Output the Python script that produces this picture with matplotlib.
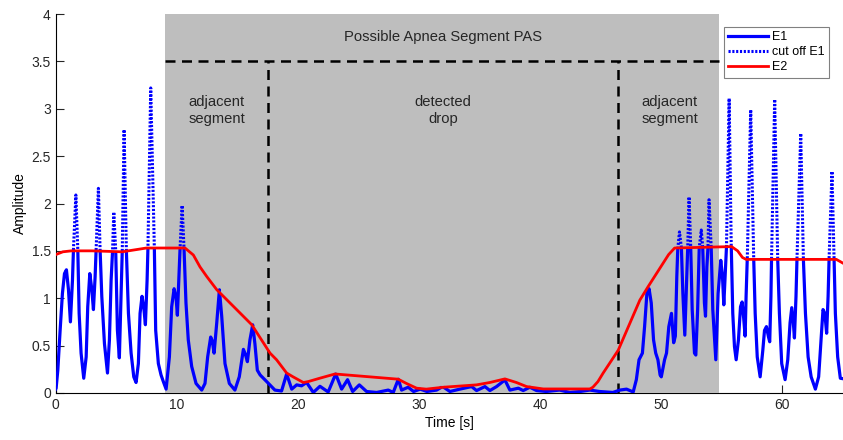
import matplotlib
matplotlib.use("Agg")
import matplotlib.pyplot as plt
from matplotlib.patches import Polygon

plt.rcParams['font.family'] = ['Liberation Sans', 'DejaVu Sans']
plt.rcParams['font.size'] = 10

# E1 signal (time [s], amplitude)
t_e1 = [0.0, 0.04, 0.18, 0.37, 0.56, 0.73, 0.89, 1.06, 1.22, 1.39, 1.47, 1.67,
        1.83, 1.94, 2.1, 2.32, 2.52, 2.65, 2.82, 2.98, 3.12, 3.26, 3.34, 3.53,
        3.67, 3.81, 4.03, 4.28, 4.44, 4.58, 4.7, 4.8, 4.96, 5.1, 5.26, 5.4,
        5.5, 5.65, 5.84, 6.01, 6.23, 6.45, 6.64, 6.83, 6.97, 7.13, 7.27, 7.41,
        7.55, 7.62, 7.85, 8.15, 8.26, 8.48, 8.7, 8.89, 9.12, 9.39, 9.58, 9.78,
        9.94, 10.05, 10.19, 10.27, 10.44, 10.6, 10.76, 10.95, 11.23, 11.59,
        12.06, 12.33, 12.55, 12.8, 12.93, 13.08, 13.3, 13.52, 13.71, 13.98,
        14.34, 14.8, 15.16, 15.5, 15.66, 15.83, 16.04, 16.27, 16.45, 16.65,
        16.88, 17.42, 18.1, 18.65, 19.07, 19.49, 19.9,
        20.3, 20.72, 21.27, 21.82, 22.5, 23.12, 23.61, 24.1, 24.52, 25.07,
        25.67, 26.5, 27.46, 27.87, 28.29, 28.56, 29.1, 29.55, 30.1, 30.65,
        31.45, 31.95, 32.55, 33.37, 34.34, 34.75, 35.44, 35.85, 36.4, 37.09,
        37.5, 38.2, 38.6, 39.15, 39.7, 40.5, 41.6, 42.45, 43.3, 44.1, 44.9,
        46.0, 46.58, 47.13, 47.68, 47.94, 48.16, 48.44, 48.62, 48.81, 48.99,
        49.17, 49.36, 49.54, 49.72, 49.9, 50.0, 50.27, 50.43, 50.62, 50.84,
        51.02, 51.16, 51.28, 51.36, 51.5, 51.66, 51.78, 51.94, 52.1, 52.18,
        52.29, 52.43, 52.55, 52.74, 52.85, 53.0, 53.13, 53.3, 53.42, 53.56,
        53.65, 53.76, 53.85, 53.94, 54.12, 54.25, 54.5, 54.69, 54.91, 55.05,
        55.16, 55.33, 55.38, 55.6, 55.77, 55.9, 56.04, 56.18, 56.37, 56.54,
        56.67, 56.8, 56.92, 57.0, 57.1, 57.38, 57.63, 57.75, 57.92, 58.16,
        58.38, 58.52, 58.68, 58.85, 58.95, 59.05, 59.1, 59.36, 59.61, 59.75,
        59.94, 60.22, 60.44, 60.63, 60.77, 60.9, 60.99, 61.12, 61.2, 61.51,
        61.73, 61.9, 62.12, 62.37, 62.72, 62.99, 63.19, 63.35, 63.5, 63.65,
        63.77, 63.85, 64.09, 64.26, 64.37, 64.56, 64.78, 65.0]
e1 = [0.04, 0.05, 0.24, 0.66, 1.05, 1.26, 1.30, 1.09, 0.75, 1.19, 1.51, 2.09,
      1.51, 0.84, 0.42, 0.155, 0.38, 0.91, 1.26, 1.10, 0.88, 1.23, 1.51, 2.16,
      1.51, 1.02, 0.52, 0.21, 0.56, 1.19, 1.50, 1.91, 1.50, 0.66, 0.37, 1.02,
      1.50, 2.78, 1.50, 0.84, 0.42, 0.17, 0.11, 0.31, 0.84, 1.02, 0.91, 0.72,
      1.19, 1.53, 3.22, 1.52, 0.66, 0.31, 0.19, 0.12, 0.04, 0.38, 0.91, 1.10,
      1.01, 0.82, 1.26, 1.52, 1.98, 1.52, 0.95, 0.56, 0.28, 0.10,
      0.03, 0.10, 0.38, 0.59, 0.55, 0.42, 0.74, 1.09, 0.81, 0.31,
      0.10, 0.03, 0.17, 0.46, 0.41, 0.33, 0.56, 0.72, 0.52, 0.24,
      0.19, 0.12, 0.03, 0.02, 0.2, 0.04, 0.085,
      0.075, 0.11, 0.005, 0.07, 0.01, 0.2, 0.04, 0.14, 0.015, 0.085,
      0.015, 0.005, 0.03, 0.005, 0.145, 0.03, 0.06, 0.015, 0.04, 0.015,
      0.03, 0.067, 0.015, 0.04, 0.067, 0.025, 0.067, 0.025, 0.067, 0.137,
      0.03, 0.05, 0.025, 0.06, 0.025, 0.015, 0.03, 0.005, 0.015, 0.03, 0.015,
      0.005, 0.03, 0.04, 0.01, 0.14, 0.35, 0.42, 0.70, 1.05, 1.10,
      0.95, 0.56, 0.42, 0.35, 0.19, 0.17, 0.35, 0.42, 0.70, 0.84,
      0.53, 0.60, 1.23, 1.52, 1.70, 1.53, 1.05, 0.61, 1.23, 1.53,
      2.07, 1.53, 0.88, 0.42, 0.40, 0.88, 1.53, 1.72, 1.53, 0.95,
      0.81, 1.33, 1.53, 2.04, 1.53, 0.88, 0.35, 1.05, 1.40, 1.23,
      0.93, 1.40, 1.54, 3.11, 1.58, 0.84, 0.49, 0.35, 0.56, 0.91,
      0.96, 0.79, 0.60, 1.02, 1.43, 2.99, 1.41, 0.84, 0.38, 0.17,
      0.45, 0.66, 0.70, 0.59, 0.54, 1.02, 1.41, 3.10, 1.41, 0.84,
      0.31, 0.14, 0.35, 0.74, 0.90, 0.74, 0.58, 1.02, 1.41, 2.74,
      1.41, 0.84, 0.38, 0.17, 0.04, 0.17, 0.56, 0.88, 0.84, 0.63,
      1.02, 1.41, 2.34, 1.41, 0.84, 0.38, 0.155, 0.15]

# E2 envelope
t_e2 = [0.0, 0.6, 1.3, 3.0, 5.5, 7.5, 10.68, 11.37, 11.92, 12.47, 13.3, 16.19,
        17.7, 18.24, 19.07, 19.6, 20.45, 20.86, 21.8, 23.06, 28.28, 28.96,
        29.8, 30.6, 32.0, 34.75, 35.84, 37.09, 38.04, 38.88, 40.25, 44.1,
        44.35, 44.77, 45.2, 46.44, 48.23, 48.9, 50.15, 50.6, 51.1, 55.8,
        56.3, 56.7, 57.0, 64.45, 65.0]
e2 = [1.46, 1.49, 1.50, 1.50, 1.49, 1.53, 1.53, 1.456, 1.33, 1.23, 1.09, 0.72,
      0.42, 0.35, 0.21, 0.17, 0.11, 0.12, 0.155, 0.2, 0.145, 0.10,
      0.05, 0.04, 0.06, 0.085, 0.11, 0.148, 0.11, 0.067, 0.042, 0.042,
      0.06, 0.12, 0.21, 0.45, 0.98, 1.12, 1.37, 1.46, 1.53, 1.545,
      1.50, 1.43, 1.41, 1.41, 1.37]

pas_start, pas_end = 9.0, 54.8
drop_start, drop_end = 17.5, 46.4
pas_level = 3.5

fig = plt.figure(figsize=(8.43, 4.40), dpi=100)
ax = fig.add_axes([0.066, 0.107, 0.934, 0.861])

ax.axvspan(pas_start, pas_end, color='#bebebe', lw=0, zorder=3)
ax.plot([pas_start, pas_end], [pas_level, pas_level], color='k', lw=1.8,
        ls=(0, (4, 2.6)), zorder=4)
for xd in (drop_start, drop_end):
    ax.plot([xd, xd], [0, pas_level], color='k', lw=1.8, ls=(0, (4, 2.6)), zorder=4)

# split E1 into the part below E2 (solid) and above E2 (dotted)
below = Polygon(list(zip(t_e2, e2)) + [(65.5, -1), (-0.5, -1)], closed=True,
                transform=ax.transData)
above = Polygon(list(zip(t_e2, e2)) + [(65.5, 5), (-0.5, 5)], closed=True,
                transform=ax.transData)

l1, = ax.plot(t_e1, e1, color='#0000ff', lw=2.3, zorder=5, label='E1',
              solid_joinstyle='round')
l1.set_clip_path(below)
l2, = ax.plot(t_e1, e1, color='#0000ff', lw=2.2, ls=(0, (0.7, 0.55)), zorder=5,
              label='cut off E1')
l2.set_clip_path(above)
l3, = ax.plot(t_e2, e2, color='#ff0000', lw=2.0, zorder=6, label='E2',
              solid_joinstyle='round')

tc = '#262626'
ax.text(32, 3.76, 'Possible Apnea Segment PAS', ha='center', va='center',
        color=tc, zorder=7, fontsize=10.6)
ax.text(13.3, 2.98, 'adjacent\nsegment', ha='center', va='center', color=tc,
        zorder=7, linespacing=1.3, fontsize=10.6)
ax.text(32, 2.98, 'detected\ndrop', ha='center', va='center', color=tc,
        zorder=7, linespacing=1.3, fontsize=10.6)
ax.text(50.7, 2.98, 'adjacent\nsegment', ha='center', va='center', color=tc,
        zorder=7, linespacing=1.3, fontsize=10.6)

ax.set_xlim(0, 65)
ax.set_ylim(0, 4)
ax.set_xticks([0, 10, 20, 30, 40, 50, 60])
ax.set_yticks([0, 0.5, 1, 1.5, 2, 2.5, 3, 3.5, 4])
ax.set_yticklabels(['0', '0.5', '1', '1.5', '2', '2.5', '3', '3.5', '4'])
ax.tick_params(direction='in', length=5.5, width=0.8, colors='#262626')
ax.spines['top'].set_visible(False)
ax.spines['right'].set_visible(False)
ax.set_xlabel('Time [s]', labelpad=3)
ax.set_ylabel('Amplitude', labelpad=3)

leg = ax.legend(handles=[l1, l2, l3], loc='upper right',
                bbox_to_anchor=(0.982, 0.967), borderaxespad=0, fancybox=False,
                edgecolor='#808080', framealpha=1, handlelength=3.2,
                handletextpad=0.3, borderpad=0.35, labelspacing=0.25,
                fontsize=9)
leg.set_zorder(10)
leg.get_frame().set_linewidth(0.8)

fig.savefig('out.png', dpi=100)
